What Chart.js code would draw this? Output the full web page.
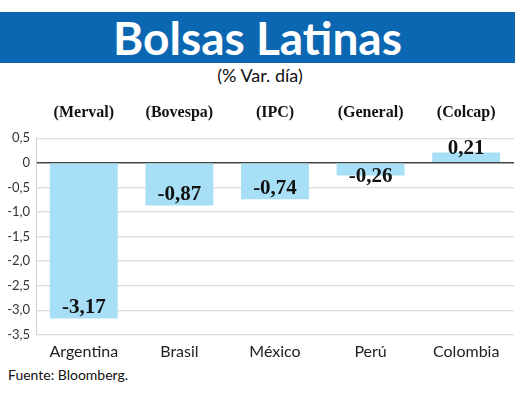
<!DOCTYPE html>
<html>
<head>
<meta charset="utf-8">
<script src="https://cdn.jsdelivr.net/npm/chart.js@4.4.1/dist/chart.umd.min.js"></script>
<style>
  body { margin: 0; background: #fff; }
  #wrap { position: relative; width: 520px; height: 399px; overflow: hidden; }
  .banner {
    position: absolute; left: 0; top: 12px; width: 515px; height: 51px;
    background: #0b67b2; color: #fff; text-align: center;
    font: bold 46px Lato, sans-serif; line-height: 51px;
  }
  .sub {
    position: absolute; left: 0; top: 64px; width: 520px; text-align: center;
    font: 18px Lato, sans-serif; color: #111;
  }
  .source {
    position: absolute; left: 8px; top: 366px;
    font: 14px Lato, sans-serif; color: #111;
  }
  canvas { position: absolute; left: 0; top: 0; }
</style>
</head>
<body>
<div id="wrap">
  <div class="banner">Bolsas Latinas</div>
  <div class="sub">(% Var. día)</div>
  <div class="source">Fuente: Bloomberg.</div>
  <canvas id="chart" width="520" height="399"></canvas>
</div>
<script>
const countries = ['Argentina', 'Brasil', 'México', 'Perú', 'Colombia'];
const indices = ['(Merval)', '(Bovespa)', '(IPC)', '(General)', '(Colcap)'];
const variation = [-3.17, -0.87, -0.74, -0.26, 0.21];

const fmt = (v, d) => v.toFixed(d).replace('.', ',');

// numbers sitting at the end of each bar
const valueLabels = {
  id: 'valueLabels',
  afterDatasetsDraw(chart) {
    const ctx = chart.ctx;
    const meta = chart.getDatasetMeta(0);
    const zeroY = chart.scales.y.getPixelForValue(0);
    ctx.save();
    ctx.font = 'bold 21px "Liberation Serif", serif';
    ctx.fillStyle = '#111';
    ctx.textAlign = 'center';
    ctx.textBaseline = 'middle';
    meta.data.forEach((bar, i) => {
      const v = variation[i];
      let y;
      if (v < 0) {
        y = Math.max(bar.y - 11, zeroY + 14);
      } else {
        y = bar.y - 4;
      }
      ctx.fillText(fmt(v, 2), bar.x, y);
    });
    ctx.restore();
  }
};

new Chart(document.getElementById('chart'), {
  type: 'bar',
  data: {
    labels: countries,
    datasets: [{
      data: variation,
      backgroundColor: '#a7dff6',
      categoryPercentage: 1,
      barPercentage: 0.71
    }]
  },
  options: {
    responsive: false,
    animation: false,
    layout: { padding: { top: 87, left: 6, right: 6, bottom: 31 } },
    plugins: {
      legend: { display: false },
      tooltip: { enabled: false }
    },
    scales: {
      x: {
        grid: { display: false, drawTicks: false },
        border: { display: false },
        ticks: {
          padding: 7,
          color: '#222',
          font: { family: 'Lato', size: 16 }
        }
      },
      x2: {
        type: 'category',
        position: 'top',
        labels: indices,
        grid: { display: false, drawTicks: false },
        border: { display: false },
        ticks: {
          padding: 16,
          color: '#111',
          font: { family: 'Liberation Serif', size: 16, weight: 'bold' }
        }
      },
      y: {
        min: -3.5,
        max: 0.5,
        afterFit(scale) { scale.width = 30; },
        ticks: {
          stepSize: 0.5,
          padding: 6,
          color: '#333',
          font: { family: 'Lato', size: 13 },
          callback: v => v === 0 ? '0' : fmt(v, 1)
        },
        grid: {
          drawTicks: false,
          color: ctx => ctx.tick && ctx.tick.value === 0 ? '#444' : '#dcdcdc',
          lineWidth: ctx => ctx.tick && ctx.tick.value === 0 ? 1.5 : 1.2
        },
        border: { display: true, color: '#cfcfcf' }
      }
    }
  },
  plugins: [valueLabels]
});
</script>
</body>
</html>
